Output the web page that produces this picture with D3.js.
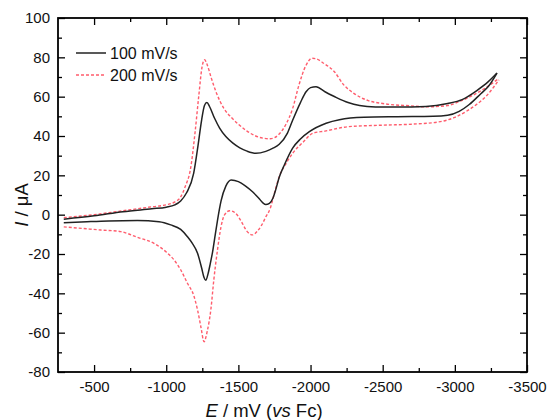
<!DOCTYPE html>
<html>
<head>
<meta charset="utf-8">
<script src="https://cdn.jsdelivr.net/npm/d3@7"></script>
<style>
  body { margin: 0; background: #fff; }
  svg { font-family: "Liberation Sans", Arial, sans-serif; }
</style>
</head>
<body>
<div id="chart"></div>
<script>
// 100 mV/s, outward scan (upper branch) and return scan (lower branch), both listed left to right
const e100Out = [-290, -500, -700, -900, -1000, -1060, -1100, -1140, -1190, -1220, -1245, -1265, -1282, -1300, -1335, -1370, -1413, -1460, -1510, -1560, -1621, -1690, -1740, -1783, -1840, -1876, -1930, -1969, -2000, -2038, -2100, -2180, -2260, -2340, -2450, -2600, -2800, -2950, -3050, -3150, -3230, -3292]
const i100Out = [-2.3, -0.6, 1.5, 3.0, 3.8, 5.0, 7.0, 11, 21, 35, 48, 55.5, 57, 55, 49, 44, 39.7, 36.5, 34, 32.3, 31.2, 32.2, 33.8, 35.8, 41.5, 48, 57, 62.5, 64.6, 65, 62.5, 59.5, 57, 55.5, 54.8, 54.7, 55, 56.5, 58.5, 63, 67.5, 72]
const e100Back = [-290, -450, -600, -800, -950, -1031, -1100, -1147, -1180, -1217, -1245, -1262, -1274, -1290, -1305, -1321, -1340, -1355, -1380, -1413, -1450, -1500, -1550, -1600, -1640, -1670, -1690, -1715, -1740, -1760, -1783, -1820, -1876, -1930, -1992, -2108, -2200, -2370, -2600, -2850, -2950, -3030, -3100, -3180, -3230, -3292]
const i100Back = [-4.1, -3.6, -3.2, -3.0, -3.6, -5.2, -7.5, -11.2, -14.5, -19.6, -27, -32, -33.4, -30, -25, -19, -10, -3, 7, 14.5, 17.6, 16.8, 14.5, 11.5, 8.5, 6, 5.2, 5.8, 8.5, 13, 19, 25.5, 33.8, 38.5, 42.2, 46.5, 48.3, 49.5, 49.8, 50, 50.5, 52.5, 56, 61.5, 65, 72]

// 200 mV/s
const e200Out = [-290, -500, -700, -900, -1000, -1060, -1100, -1130, -1170, -1200, -1225, -1248, -1265, -1285, -1310, -1350, -1400, -1450, -1500, -1560, -1620, -1680, -1720, -1783, -1830, -1876, -1920, -1969, -2010, -2040, -2090, -2165, -2230, -2300, -2400, -2500, -2700, -2800, -2950, -3030, -3120, -3210, -3305]
const i200Out = [-1.5, 0, 2, 4, 5, 6.5, 9, 14, 24, 42, 60, 75, 78.8, 76, 70, 61.5, 54, 49.5, 46, 42.5, 40, 38.8, 38.6, 41, 46, 54, 66, 76, 79.5, 79.2, 77, 72.7, 66, 61.7, 58, 56.5, 55.3, 54.8, 55.5, 57.5, 60.5, 64.3, 69.3]
const e200Back = [-290, -420, -545, -684, -800, -915, -1000, -1054, -1100, -1147, -1190, -1217, -1240, -1262, -1285, -1309, -1330, -1355, -1380, -1405, -1440, -1480, -1517, -1560, -1599, -1630, -1660, -1691, -1720, -1750, -1783, -1830, -1876, -1950, -2015, -2100, -2258, -2500, -2700, -2900, -3000, -3090, -3150, -3220, -3260, -3305]
const i200Back = [-6.2, -7, -7.8, -8.6, -11.5, -14.6, -19, -23, -28, -34.9, -41, -48.4, -57, -64.6, -59, -48.4, -33, -18, -6, 0, 2, 0.8, -3, -8.5, -10.3, -8.5, -5.5, -1, 3, 11, 19.3, 26, 31.2, 37, 41.4, 42.5, 44.7, 45.5, 46, 47.3, 49.5, 53, 56, 60.5, 64, 68.5]

const series = [
  {name: "100 mV/s", branches: [[e100Out, i100Out], [e100Back, i100Back]], color: "#222", dash: null, width: 1.5},
  {name: "200 mV/s", branches: [[e200Out, i200Out], [e200Back, i200Back]], color: "#ff5c6c", dash: "3,2", width: 1.4}
]

const xTicks = [-500, -1000, -1500, -2000, -2500, -3000, -3500]
const xMinor = [-750, -1250, -1750, -2250, -2750, -3250]
const yTicks = [-80, -60, -40, -20, 0, 20, 40, 60, 80, 100]
const yMinor = [-70, -50, -30, -10, 10, 30, 50, 70, 90]

const width = 551, height = 420
const margin = {top: 18, right: 24, bottom: 48, left: 58}

const svg = d3.select("#chart").append("svg")
    .attr("width", width)
    .attr("height", height)

const x = d3.scaleLinear().domain([-250, -3500]).range([margin.left, width - margin.right])
const y = d3.scaleLinear().domain([-80, 100]).range([height - margin.bottom, margin.top])

const fmt = d => String(d)

// curves (each branch runs left to right on screen)
const line = d3.line()
    .x(d => x(d[0]))
    .y(d => y(d[1]))
    .curve(d3.curveMonotoneX)

series.slice().reverse().forEach(s => {
  s.branches.forEach(([es, is]) => {
    svg.append("path")
        .datum(es.map((v, k) => [v, is[k]]))
        .attr("fill", "none")
        .attr("stroke", s.color)
        .attr("stroke-width", s.width)
        .attr("stroke-dasharray", s.dash)
        .attr("stroke-linejoin", "round")
        .attr("d", line)
  })
})

// axes, ticks pointing inward
const x0 = x.range()[0], x1 = x.range()[1]
const y0 = y.range()[0], y1 = y.range()[1]

const addAxis = (axis, tx, ty, labels) => {
  const g = svg.append("g")
      .attr("transform", `translate(${tx},${ty})`)
      .call(axis)
  g.select(".domain").remove()
  g.selectAll("line").attr("stroke", "#000").attr("stroke-width", 1.3)
  g.selectAll("text")
      .attr("font-size", 15)
      .attr("fill", "#111")
  if (!labels) g.selectAll("text").remove()
  return g
}

addAxis(d3.axisBottom(x).tickValues(xTicks).tickSize(-7).tickPadding(9).tickFormat(fmt), 0, y0, true)
addAxis(d3.axisBottom(x).tickValues(xMinor).tickSize(-4).tickFormat(""), 0, y0, false)
addAxis(d3.axisTop(x).tickValues(xTicks).tickSize(-7), 0, y1, false)
addAxis(d3.axisTop(x).tickValues(xMinor).tickSize(-4), 0, y1, false)

addAxis(d3.axisLeft(y).tickValues(yTicks).tickSize(-7).tickPadding(8).tickFormat(fmt), x0, 0, true)
addAxis(d3.axisLeft(y).tickValues(yMinor).tickSize(-4).tickFormat(""), x0, 0, false)
addAxis(d3.axisRight(y).tickValues(yTicks).tickSize(-7), x1, 0, false)
addAxis(d3.axisRight(y).tickValues(yMinor).tickSize(-4), x1, 0, false)

// frame
svg.append("rect")
    .attr("x", x0)
    .attr("y", y1)
    .attr("width", x1 - x0)
    .attr("height", y0 - y1)
    .attr("fill", "none")
    .attr("stroke", "#000")
    .attr("stroke-width", 1.8)

// axis titles
const xt = svg.append("text")
    .attr("x", 264)
    .attr("y", height - 3)
    .attr("text-anchor", "middle")
    .attr("font-size", 18.5)
    .attr("fill", "#111")
xt.append("tspan").attr("font-style", "italic").text("E")
xt.append("tspan").text(" / mV (")
xt.append("tspan").attr("font-style", "italic").text("vs")
xt.append("tspan").text(" Fc)")

const yt = svg.append("text")
    .attr("transform", `translate(28,205) rotate(-90)`)
    .attr("text-anchor", "middle")
    .attr("font-size", 18.5)
    .attr("fill", "#111")
yt.append("tspan").attr("font-style", "italic").text("I")
yt.append("tspan").text(" / μA")

// legend
const legend = svg.append("g")
series.forEach((s, k) => {
  const ly = 53 + k * 22
  legend.append("line")
      .attr("x1", 76).attr("x2", 106)
      .attr("y1", ly).attr("y2", ly)
      .attr("stroke", s.color)
      .attr("stroke-width", s.width)
      .attr("stroke-dasharray", s.dash)
  legend.append("text")
      .attr("x", 110)
      .attr("y", ly + 6)
      .attr("font-size", 16)
      .attr("fill", "#111")
      .text(s.name)
})
</script>
</body>
</html>
